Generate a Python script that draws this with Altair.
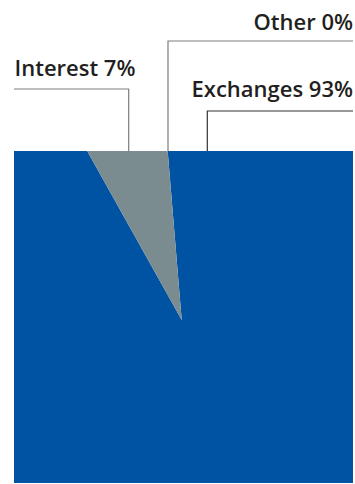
import math
import altair as alt
import pandas as pd

# ---- data ----
categories = ["Exchanges", "Interest", "Other"]
values = [93.2, 6.8, 0.0]

# ---- styles / layout ----
colors = ["#0052a3", "#7a8c8f", "#8a989b"]
W, H = 339, 332
CX, CY = 167.7, 169.0           # pie centre inside the plot area
START = math.radians(-4.74)      # start angle of the first slice
FONT = "Open Sans"
FSIZE = 22

df = pd.DataFrame({"category": categories, "value": values, "idx": list(range(len(categories)))})

arc = alt.Chart(df).mark_arc(clip=True, radius=320, strokeWidth=0).encode(
    theta=alt.Theta("value:Q", stack=True,
                    scale=alt.Scale(range=[START, START + 2 * math.pi])),
    color=alt.Color("category:N", scale=alt.Scale(domain=categories, range=colors), legend=None),
    order=alt.Order("idx:Q"),
    x=alt.value(CX),
    y=alt.value(CY),
)

# label layout (annotation geometry, in plot pixels)
layout = {
    "Interest":  dict(anchor=114.7, elbow=-62.0, end=0.0,   tx=0.5,   ty=-75.5,  align="left",  line="#7d7d7d"),
    "Other":     dict(anchor=154.0, elbow=-110.0, end=339.0, tx=339.0, ty=-121.0, align="right", line="#7d7d7d"),
    "Exchanges": dict(anchor=193.3, elbow=-40.0, end=339.0, tx=339.0, ty=-54.0,  align="right", line="#333333"),
}

line_rows, text_rows = [], []
for c, v in zip(categories, values):
    L = layout[c]
    pts = [(L["anchor"], 0.0), (L["anchor"], L["elbow"]), (L["end"], L["elbow"])]
    for k, (px, py) in enumerate(pts):
        line_rows.append({"category": c, "k": k, "px": px, "py": py, "col": L["line"]})
    text_rows.append({"category": c, "label": f"{c} {round(v)}%", "px": L["tx"], "py": L["ty"], "align": L["align"]})

lines_df = pd.DataFrame(line_rows)
text_df = pd.DataFrame(text_rows)

leaders = alt.Chart(lines_df).mark_line(strokeWidth=1.2).encode(
    x=alt.X("px:Q", scale=None),
    y=alt.Y("py:Q", scale=None),
    detail="category:N",
    order="k:Q",
    color=alt.Color("col:N", scale=None),
)

left_text = alt.Chart(text_df[text_df["align"] == "left"]).mark_text(
    align="left", baseline="alphabetic", font=FONT, fontSize=FSIZE, fontWeight=600, color="#231f20"
).encode(x=alt.X("px:Q", scale=None), y=alt.Y("py:Q", scale=None), text="label:N")

right_text = alt.Chart(text_df[text_df["align"] == "right"]).mark_text(
    align="right", baseline="alphabetic", font=FONT, fontSize=FSIZE, fontWeight=600, color="#231f20"
).encode(x=alt.X("px:Q", scale=None), y=alt.Y("py:Q", scale=None), text="label:N")

chart = alt.layer(arc, leaders, left_text, right_text).properties(
    width=W, height=H,
    autosize=alt.AutoSizeParams(type="none"),
    padding={"left": 14, "top": 151, "right": 2, "bottom": 1},
    background="white",
).configure_view(stroke=None)

chart.save("out.html", embed_options={"renderer": "svg", "actions": False})
